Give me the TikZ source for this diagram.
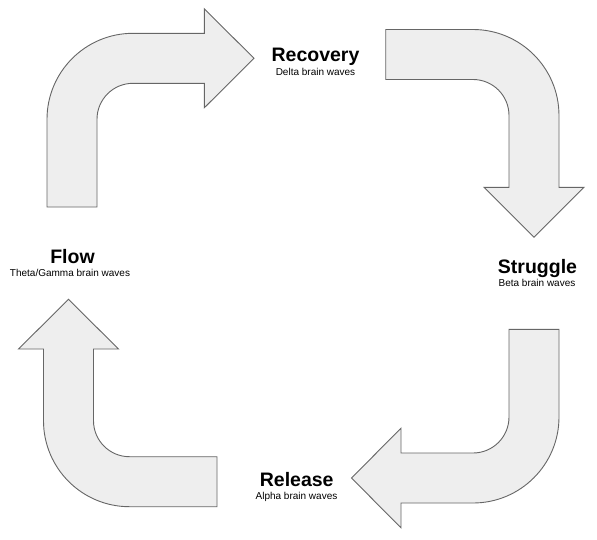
\documentclass[tikz,border=0pt]{standalone}
\usepackage{fontspec}
\setmainfont{Liberation Sans}
\definecolor{arrfill}{HTML}{EEEEEE}
\definecolor{arrline}{HTML}{666666}
\tikzset{
  bigarrow/.style={draw=arrline, fill=arrfill, line width=0.9pt, line join=miter},
  title/.style={anchor=base, inner sep=0pt, font=\fontsize{19.5}{22}\selectfont\bfseries},
  sub/.style={anchor=base, inner sep=0pt, font=\fontsize{10}{12}\selectfont}
}
\begin{document}
\begin{tikzpicture}[x=1pt,y=-1pt]
\useasboundingbox (0,0) rectangle (597,539);
% top-left arrow (up then right)
\draw[bigarrow] (47,207) -- (47,119.3) .. controls (47,71.8) and (85.5,33.3) .. (133,33.3)
  -- (204.3,33.3) -- (204.3,8.8) -- (254,58.3) -- (204.3,107.8) -- (204.3,83.3) -- (133,83.3)
  .. controls (113.1,83.3) and (97,99.4) .. (97,119.3) -- (97,207) -- cycle;
% top-right arrow (right then down)
\draw[bigarrow] (385.7,29.5) -- (473,29.5) .. controls (520.5,29.5) and (559,68) .. (559,115.5)
  -- (559,187.3) -- (584,187.3) -- (534,237.3) -- (484,187.3) -- (509,187.3) -- (509,115.5)
  .. controls (509,95.6) and (492.9,79.5) .. (473,79.5) -- (385.7,79.5) -- cycle;
% bottom-right arrow (down then left)
\draw[bigarrow] (509,329.3) -- (559,329.3) -- (559,417) .. controls (559,464.5) and (520.5,503) .. (473,503)
  -- (401,503) -- (401,527.8) -- (351.5,478) -- (401,428.2) -- (401,453) -- (473,453)
  .. controls (492.9,453) and (509,436.9) .. (509,417) -- cycle;
% bottom-left arrow (left then up)
\draw[bigarrow] (43.5,349) -- (18.5,349) -- (68.5,299.3) -- (118.5,349) -- (93.5,349) -- (93.5,420.7)
  .. controls (93.5,440.6) and (109.6,456.7) .. (129.5,456.7) -- (217,456.7) -- (217,506.7) -- (129.5,506.7)
  .. controls (82,506.7) and (43.5,468.2) .. (43.5,420.7) -- cycle;
% labels
\node[title] (rec) at (315.5,61.7) {Recovery};
\node[sub] (recs) at (315.5,75) {Delta brain waves};
\node[title] (str) at (537.5,273.5) {Struggle};
\node[sub] (strs) at (537,286.5) {Beta brain waves};
\node[title] (flow) at (72.5,263.5) {Flow};
\node[sub] (flows) at (70,276.5) {Theta/Gamma brain waves};
\node[title] (rel) at (296.7,486.5) {Release};
\node[sub] (rels) at (296.5,499.5) {Alpha brain waves};
\end{tikzpicture}
\end{document}
